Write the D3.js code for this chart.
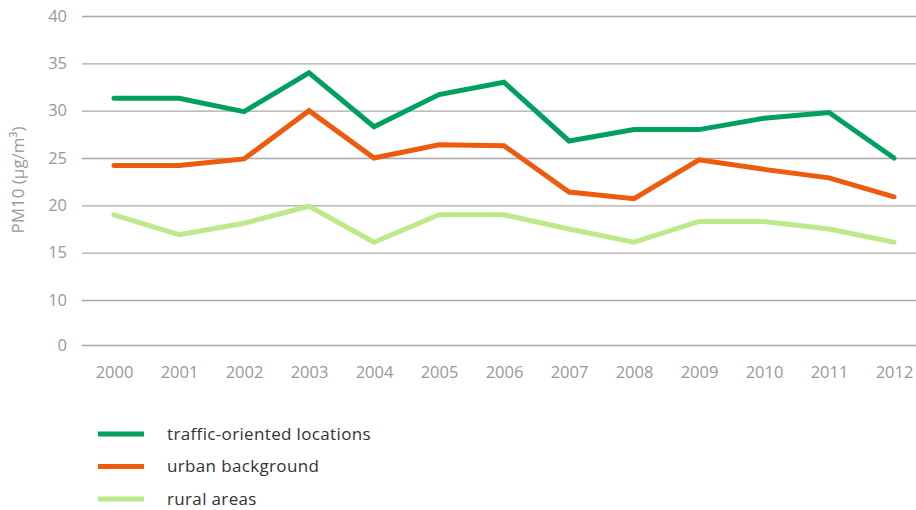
<!DOCTYPE html>
<html>
<head>
<meta charset="utf-8">
<script src="https://cdn.jsdelivr.net/npm/d3@7"></script>
<style>
  html, body { margin: 0; padding: 0; background: #fff; }
  svg { display: block; }
</style>
</head>
<body>
<svg id="chart" width="916" height="510"></svg>
<script>
// PM10 annual means by station type, 2000–2012
const years = [2000, 2001, 2002, 2003, 2004, 2005, 2006, 2007, 2008, 2009, 2010, 2011, 2012];
const traffic = [31.3, 31.3, 29.9, 34.0, 28.3, 31.7, 33.0, 26.8, 28.0, 28.0, 29.2, 29.8, 25.0];
const urban   = [24.2, 24.2, 24.9, 30.0, 25.0, 26.4, 26.3, 21.4, 20.7, 24.8, 23.8, 22.9, 20.9];
const rural   = [19.0, 16.9, 18.1, 19.9, 16.1, 19.0, 19.0, 17.5, 16.1, 18.3, 18.3, 17.5, 16.1];
const yTicks = [0, 10, 15, 20, 25, 30, 35, 40];
const seriesNames = ["traffic-oriented locations", "urban background", "rural areas"];
const seriesColors = ["#00a060", "#ee5a0e", "#bde98b"];
const seriesValues = [traffic, urban, rural];
const yTitle = "PM10 (µg/m³)";

const svg = d3.select("#chart");
const font = "'Open Sans', sans-serif";

// x: one point per year
const x = d3.scalePoint().domain(years).range([114, 894]);
// y: axis is compressed between 0 and 10
const y = d3.scaleLinear().domain([0, 10, 40]).range([345, 300, 16]);

// gridlines + tick labels
const yAxis = d3.axisLeft(y)
  .tickValues(yTicks)
  .tickSize(-(916 - 82))
  .tickPadding(15)
  .tickFormat(d3.format("d"));
const gy = svg.append("g").attr("transform", "translate(82,0)").call(yAxis);
gy.select(".domain").remove();
gy.selectAll(".tick line").attr("stroke", "#a8a8a8").attr("stroke-width", 1.3);
gy.selectAll(".tick text")
  .attr("x", -15)
  .attr("fill", "#999")
  .style("font-family", font)
  .style("font-size", "16.5px");

// x tick labels
const xAxis = d3.axisBottom(x).tickSize(0).tickPadding(0).tickFormat(d3.format("d"));
const gx = svg.append("g").attr("transform", "translate(0,366)").call(xAxis);
gx.select(".domain").remove();
gx.selectAll(".tick text")
  .attr("fill", "#999")
  .style("font-family", font)
  .style("font-size", "16.5px");

// y axis title
svg.append("text")
  .attr("transform", "translate(24,180) rotate(-90)")
  .attr("text-anchor", "middle")
  .attr("fill", "#999")
  .style("font-family", font)
  .style("font-size", "17px")
  .text(yTitle);

// series lines
const line = d3.line().x((d, i) => x(years[i])).y(d => y(d));
seriesValues.forEach((vals, k) => {
  svg.append("path")
    .datum(vals)
    .attr("d", line)
    .attr("fill", "none")
    .attr("stroke", seriesColors[k])
    .attr("stroke-width", 5)
    .attr("stroke-linejoin", "miter")
    .attr("stroke-linecap", "round");
});

// legend
const legend = svg.append("g");
const ly = d3.scalePoint().domain(seriesNames).range([434, 499]);
seriesNames.forEach((name, k) => {
  legend.append("line")
    .attr("x1", 98).attr("x2", 144)
    .attr("y1", ly(name)).attr("y2", ly(name))
    .attr("stroke", seriesColors[k])
    .attr("stroke-width", 5);
  legend.append("text")
    .attr("x", 167)
    .attr("y", ly(name))
    .attr("dy", "0.33em")
    .attr("fill", "#333")
    .style("font-family", font)
    .style("font-size", "17px")
    .style("letter-spacing", "0.35px")
    .text(name);
});
</script>
</body>
</html>
